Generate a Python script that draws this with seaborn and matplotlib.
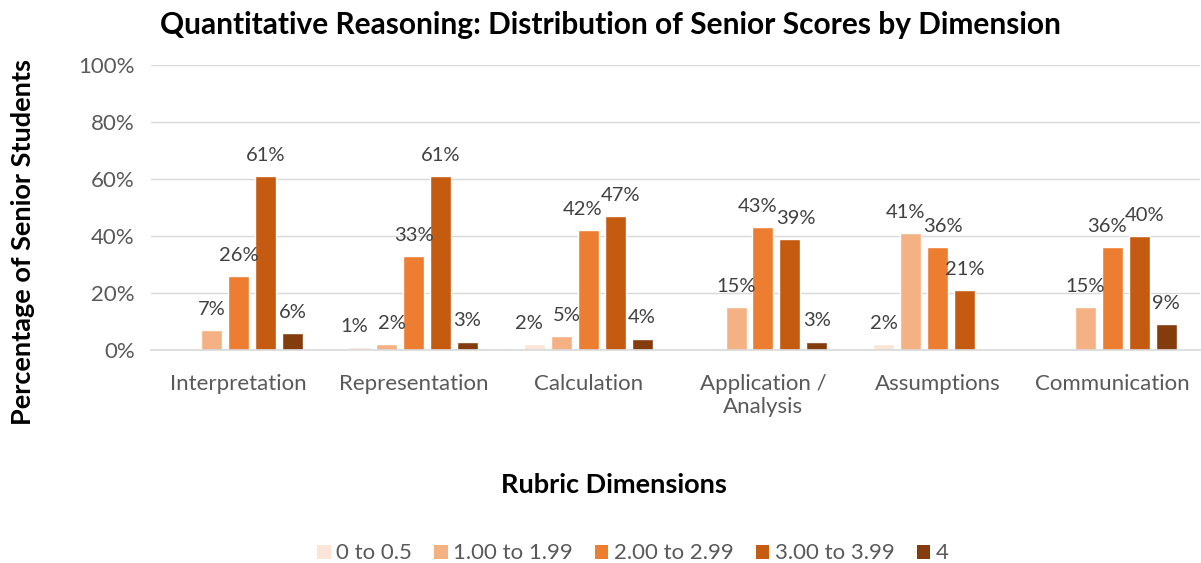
import pandas as pd
import numpy as np
import seaborn as sns
import matplotlib.pyplot as plt
from matplotlib.patches import Patch

dimensions = ['Interpretation', 'Representation', 'Calculation',
              'Application /\nAnalysis', 'Assumptions', 'Communication']
score_bands = ['0 to 0.5', '1.00 to 1.99', '2.00 to 2.99', '3.00 to 3.99', '4']
band_0 = [0, 1, 2, 0, 2, 0]
band_1 = [7, 2, 5, 15, 41, 15]
band_2 = [26, 33, 42, 43, 36, 36]
band_3 = [61, 61, 47, 39, 21, 40]
band_4 = [6, 3, 4, 3, 0, 9]
colors = ['#FBE5D6', '#F4B183', '#ED7D31', '#C55A11', '#843C0C']

bands = [band_0, band_1, band_2, band_3, band_4]
rows = []
for band, vals in zip(score_bands, bands):
    for dim, v in zip(dimensions, vals):
        rows.append({'Dimension': dim, 'Band': band, 'Pct': v})
df = pd.DataFrame(rows)

sns.set_style('white')
plt.rcParams['font.family'] = ['Lato', 'DejaVu Sans']

fig = plt.figure(figsize=(12.01, 5.63), dpi=100)
ax = fig.add_axes([0.126, 0.378, 0.873, 0.507])

sns.barplot(data=df, x='Dimension', y='Pct', hue='Band', order=dimensions,
            hue_order=score_bands, palette=colors, width=0.77, gap=0.22,
            ax=ax, legend=False, saturation=1)

# data labels, skip zeros; push apart neighbours of similar height
for j in range(len(dimensions)):
    vals = [b[j] for b in bands]
    shift = [0.0] * len(vals)
    for i in range(len(vals) - 1):
        if vals[i] > 0 and vals[i + 1] > 0 and abs(vals[i] - vals[i + 1]) < 6:
            shift[i] -= 4
            shift[i + 1] += 4
    for i, v in enumerate(vals):
        if v == 0:
            continue
        bar = ax.containers[i][j]
        ax.annotate(f'{v}%', (bar.get_x() + bar.get_width() / 2, bar.get_height() + 4.3),
                    xytext=(shift[i], 0), textcoords='offset points',
                    ha='center', va='bottom', fontsize=14.5, color='#404040')

ax.set_ylim(0, 100)
ax.set_xlim(-0.5, 5.5)
ax.set_yticks(np.arange(0, 101, 20))
ax.set_yticklabels([f'{t}%' for t in range(0, 101, 20)])
ax.yaxis.grid(True, color='#D9D9D9', linewidth=1)
ax.set_axisbelow(True)
for s in ['top', 'right', 'left']:
    ax.spines[s].set_visible(False)
ax.spines['bottom'].set_color('#D9D9D9')
ax.spines['bottom'].set_linewidth(1.2)
ax.tick_params(axis='y', length=0, labelsize=16, labelcolor='#595959', pad=12)
ax.tick_params(axis='x', length=0, labelsize=16, labelcolor='#595959', pad=17)
ax.set_xlabel('')
ax.set_ylabel('')

fig.text(0.508, 0.955, 'Quantitative Reasoning: Distribution of Senior Scores by Dimension',
         ha='center', va='center', fontsize=21.5, fontweight='bold', color='black')
fig.text(0.019, 0.57, 'Percentage of Senior Students', rotation=90, ha='center', va='center',
         fontsize=19.5, fontweight='bold', color='black')
fig.text(0.511, 0.138, 'Rubric Dimensions', ha='center', va='center',
         fontsize=19.5, fontweight='bold', color='black')

handles = [Patch(facecolor=c, edgecolor='none') for c in colors]
fig.legend(handles, score_bands, loc='center', bbox_to_anchor=(0.527, 0.017), ncol=5,
           frameon=False, fontsize=16, labelcolor='#595959', handlelength=0.6,
           handleheight=0.6, handletextpad=0.25, columnspacing=1.0)

fig.savefig('out.png', dpi=100)
